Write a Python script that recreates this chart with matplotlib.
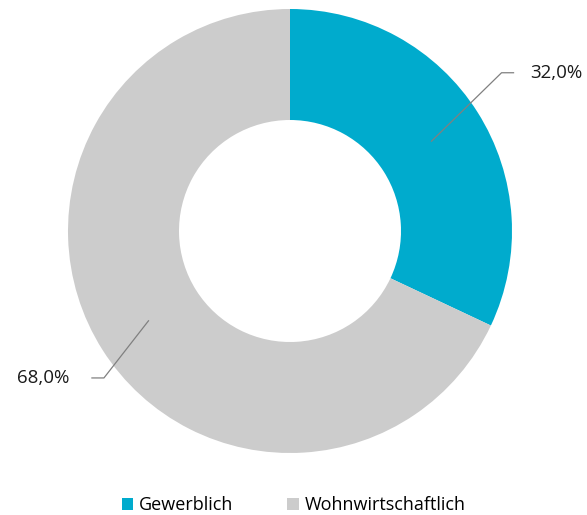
import numpy as np
import matplotlib.pyplot as plt
from matplotlib.patches import Patch

categories = ['Gewerblich', 'Wohnwirtschaftlich']
shares = [32.0, 68.0]
labels = ['32,0%', '68,0%']
colors = ['#00abcd', '#cccccc']

plt.rcParams['font.family'] = ['Open Sans', 'DejaVu Sans']

fig = plt.figure(figsize=(5.87, 5.15), dpi=100)
ax = fig.add_axes([0, 0, 1, 1])
R = 222.0

wedges, _ = ax.pie(shares, colors=colors, startangle=90, counterclock=False,
                   radius=1.0, wedgeprops=dict(width=0.5, linewidth=0))

# pie() resets the limits, so set them afterwards
ax.set_xlim(-290 / R, (587 - 290) / R)
ax.set_ylim(-(515 - 231) / R, 231 / R)
ax.set_aspect('equal')
ax.axis('off')

# leader lines: from ring middle to elbow, then short horizontal
elbow_r = [1.19, 1.068]
elbow_da = [4.4, 5.9]
for w, lab, er, da in zip(wedges, labels, elbow_r, elbow_da):
    mid = np.deg2rad((w.theta1 + w.theta2) / 2)
    x0, y0 = 0.755 * np.cos(mid), 0.755 * np.sin(mid)
    a = mid + np.deg2rad(da)
    ex, ey = er * np.cos(a), er * np.sin(a)
    if np.cos(mid) > 0:
        hx = ex + 12 / R
        ax.plot([x0, ex, hx], [y0, ey, ey], color='#808080', lw=0.9)
        ax.text(hx + 17 / R, ey, lab, ha='left', va='center', fontsize=13.5, color='#1a1a1a')
    else:
        hx = ex - 12 / R
        ax.plot([x0, ex, hx], [y0, ey, ey], color='#808080', lw=0.9)
        ax.text(hx - 23 / R, ey, lab, ha='right', va='center', fontsize=13.5, color='#1a1a1a')

handles = [Patch(facecolor=c, edgecolor='none') for c in colors]
fig.legend(handles, categories, loc='center', bbox_to_anchor=(0.5, 10 / 515),
           ncol=2, frameon=False, fontsize=13, handlelength=0.65, handleheight=0.65,
           handletextpad=0.3, columnspacing=3.0)

fig.savefig('out.png', dpi=100)
